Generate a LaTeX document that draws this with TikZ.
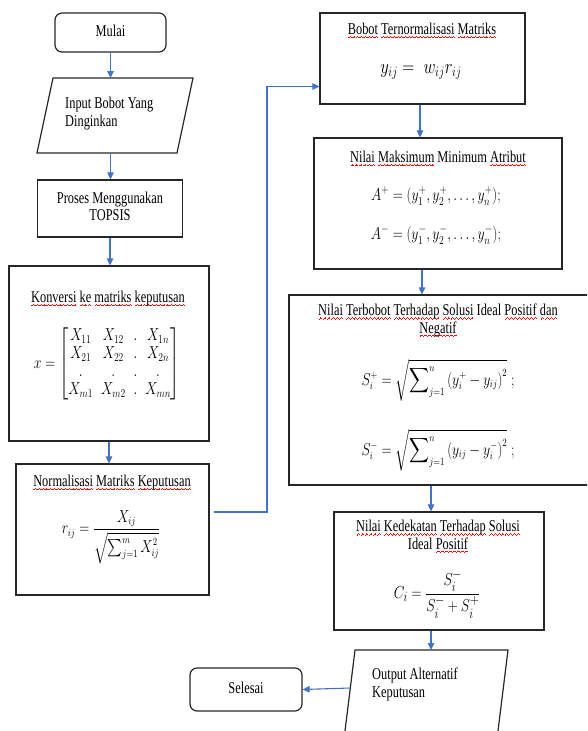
\documentclass[tikz,border=0pt]{standalone}
\usepackage{amsmath}
\usepackage{fontspec}
\setmainfont{Liberation Serif}
\usepackage{graphicx}
\usetikzlibrary{arrows.meta}
\definecolor{arrowblue}{HTML}{4472C4}
\definecolor{boxline}{HTML}{262626}
\newcommand\wavepiece{\hbox{\rule[-3.6pt]{1.2pt}{0.7pt}\rule[-2.9pt]{1.2pt}{0.7pt}\rule[-2.2pt]{1.2pt}{0.7pt}\rule[-2.9pt]{1.2pt}{0.7pt}}}
\newcommand\rw[1]{\setbox0\hbox{#1}\rlap{\textcolor{red}{\hbox to\wd0{\xleaders\wavepiece\hfil}}}\box0\relax}
\newcommand\fs{\fontsize{16.5}{17.5}\selectfont}
\newcommand\sqc[1]{\scalebox{0.75}[1]{\fs\begin{tabular}{@{}c@{}}#1\end{tabular}}}
\newcommand\sql[1]{\scalebox{0.75}[1]{\fs\begin{tabular}{@{}l@{}}#1\end{tabular}}}
\newcommand\mth[2]{\scalebox{0.8}[1]{\fontsize{#1}{#1}\selectfont$\displaystyle #2$}}
\begin{document}
\begin{tikzpicture}[x=1pt,y=-1pt,
  box/.style={draw=boxline, line width=1.2pt, inner sep=0pt},
  rbox/.style={box, rounded corners=7pt},
  txt/.style={inner sep=0pt},
  arr/.style={draw=arrowblue, line width=1.1pt, -{Triangle[length=7pt,width=6.5pt]}}]
\useasboundingbox (0,0) rectangle (587,731);
\clip (0,0) rectangle (587,731);

% left column
\node[rbox, minimum width=111pt, minimum height=39pt] (mulai) at (110.5,32.5) {\sqc{Mulai}};

\draw[box] (53,78) -- (193,78) -- (177,153) -- (37,153) -- cycle;
\coordinate (intop) at (110.5,78);
\coordinate (inbot) at (110.5,153);
\node[txt, anchor=west] (tin) at (65,114) {\sql{Input Bobot Yang\\Dinginkan}};

\node[box, minimum width=145pt, minimum height=57pt] (proses) at (110,208.5) {\sqc{Proses Menggunakan\\TOPSIS}};

\node[box, minimum width=200pt, minimum height=175pt] (konv) at (109,353.5) {};
\node[txt] (tkonv) at (108,299) {\sqc{\rw{Konversi} \rw{ke} \rw{matriks} \rw{keputusan}}};
\node[txt] (fkonv) at (107,364) {\mth{18}{x = \begin{bmatrix} X_{11} & X_{12} & . & X_{1n}\\ X_{21} & X_{22} & . & X_{2n}\\ . & . & . & .\\ X_{m1} & X_{m2} & . & X_{mn}\end{bmatrix}}};

\node[box, minimum width=193pt, minimum height=131pt] (norm) at (112.5,529.5) {};
\node[txt] (tnorm) at (112,483) {\sqc{\rw{Normalisasi} \rw{Matriks} \rw{Keputusan}}};
\node[txt] (fnorm) at (111,537) {\mth{16}{r_{ij} = \frac{X_{ij}}{\sqrt{\textstyle\sum_{j=1}^{m} X_{ij}^{2}}}}};

% right column
\node[box, minimum width=205pt, minimum height=91pt] (bobot) at (422.5,58.5) {};
\node[txt] (tbobot) at (422,31) {\sqc{\rw{Bobot} \rw{Ternormalisasi} \rw{Matriks}}};
\node[txt] (fbobot) at (421,72) {\mth{20}{y_{ij} =\; w_{ij} r_{ij}}};

\node[box, minimum width=248pt, minimum height=131pt] (maks) at (438,203.5) {};
\node[txt] (tmaks) at (438,159) {\sqc{\rw{Nilai} \rw{Maksimum} Minimum \rw{Atribut}}};
\node[txt] (fmaks1) at (436,196) {\mth{17}{A^{+} = (y_1^{+}, y_2^{+}, \dots, y_n^{+});}};
\node[txt] (fmaks2) at (436,235) {\mth{17}{A^{-} = (y_1^{-}, y_2^{-}, \dots, y_n^{-});}};

\node[box, minimum width=311pt, minimum height=190pt] (terb) at (444.5,390) {};
\node[txt] (tterb) at (438,321) {\sqc{\rw{Nilai} \rw{Terbobot} \rw{Terhadap} \rw{Solusi} Ideal \rw{Positif} \rw{dan}\\ \rw{Negatif}}};
\node[txt] (fterb1) at (438,380) {\mth{16}{S_i^{+} = \sqrt{\sum\nolimits_{j=1}^{n} \left(y_i^{+} - y_{ij}\right)^2}\;;}};
\node[txt] (fterb2) at (438,450) {\mth{16}{S_i^{-} = \sqrt{\sum\nolimits_{j=1}^{n} \left(y_{ij} - y_i^{-}\right)^2}\;;}};

\node[box, minimum width=210pt, minimum height=118pt] (ked) at (439,571) {};
\node[txt] (tked) at (438,537) {\sqc{\rw{Nilai} \rw{Kedekatan} \rw{Terhadap} \rw{Solusi}\\ Ideal \rw{Positif}}};
\node[txt] (fked) at (437,594) {\mth{19}{C_i = \frac{S_i^{-}}{S_i^{-} + S_i^{+}}}};

\draw[box] (355,650) -- (508,650) -- (494.4,760) -- (341.4,760) -- cycle;
\coordinate (outtop) at (431,650);
\coordinate (outleft) at (350.3,688);
\node[txt, anchor=west] (tout) at (372,685) {\sql{Output Alternatif\\Keputusan}};

\node[rbox, minimum width=112pt, minimum height=43pt] (selesai) at (246,689.5) {\sqc{Selesai}};

% connectors
\draw[arr] (mulai.south) -- (intop);
\draw[arr] (inbot) -- (inbot |- proses.north);
\draw[arr] (proses.south) -- (proses.south |- konv.north);
\draw[arr] (konv.south) -- (konv.south |- norm.north);
\coordinate (nout) at ([xshift=4pt,yshift=17.5pt]norm.east);
\coordinate (bin) at ([yshift=-28pt]bobot.west);
\coordinate (bend) at (267,0);
\draw[arr] (nout) -- (nout -| bend) -- (bend |- bin) -- (bin);
\coordinate (bout) at ([xshift=-2.5pt]bobot.south);
\draw[arr] (bout) -- (bout |- maks.north);
\coordinate (mout) at ([xshift=-16pt]maks.south);
\draw[arr] (mout) -- (mout |- terb.north);
\coordinate (tbout) at ([xshift=-13.5pt]terb.south);
\draw[arr] (tbout) -- (tbout |- ked.north);
\coordinate (kout) at ([xshift=-8pt]ked.south);
\draw[arr] (kout) -- (outtop);
\draw[arr] (outleft) -- (selesai.east);
\end{tikzpicture}
\end{document}
